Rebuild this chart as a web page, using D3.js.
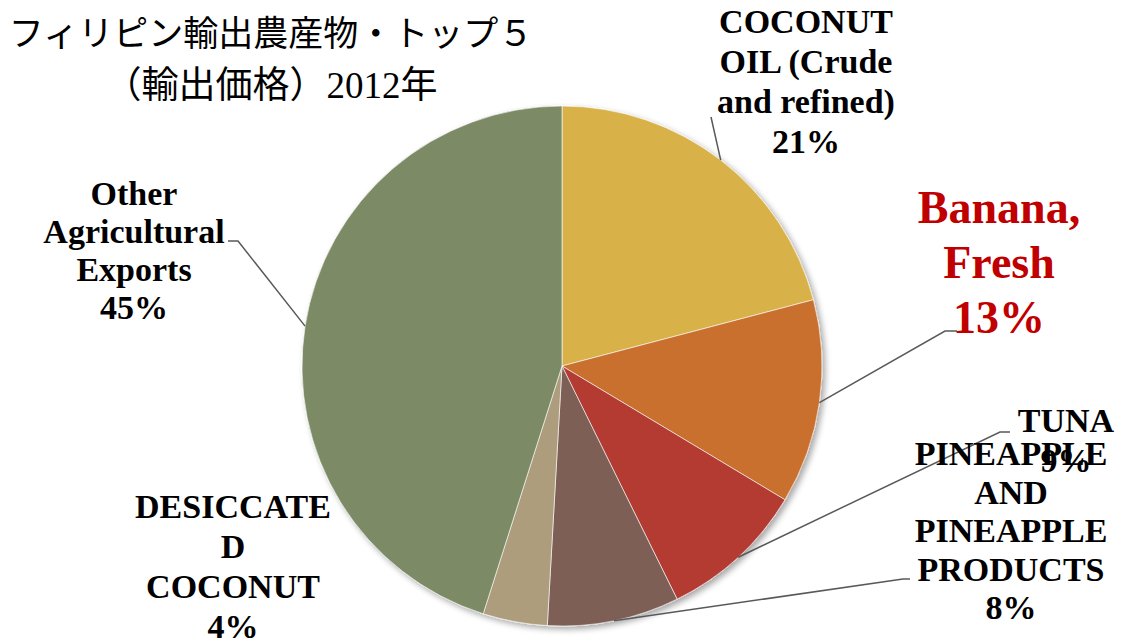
<!DOCTYPE html>
<html>
<head>
<meta charset="utf-8">
<script src="https://cdn.jsdelivr.net/npm/d3@7"></script>
<style>
body{margin:0;background:#fff}
svg text{font-family:'Liberation Serif','Noto Sans CJK JP',serif}
</style>
</head>
<body>
<div id="chart"></div>
<script>
// data
const categories=['COCONUT OIL (Crude and refined)','Banana, Fresh','TUNA','PINEAPPLE AND PINEAPPLE PRODUCTS','DESICCATED COCONUT','Other Agricultural Exports']
const values=[20.9,12.7,9.1,8.2,4.0,45.1]
const percentLabels=['21%','13%','9%','8%','4%','45%']
const labelLines=[
	['COCONUT','OIL (Crude','and refined)'],
	['Banana,','Fresh'],
	['TUNA'],
	['PINEAPPLE','AND','PINEAPPLE','PRODUCTS'],
	['DESICCATE','D','COCONUT'],
	['Other','Agricultural','Exports']
]
const titleLines=['フィリピン輸出農産物・トップ５','（輸出価格）2012年']

const colors=['#D8B24A','#C96F2E','#B33A33','#7E5F57','#AD9D7C','#7C8A65']

const width=1125,height=641
const cx=562,cy=366,radius=260

// label layout: centre x, first baseline, line gap, font size, colour
const labelLayout=[
	{x:806,y:33,gap:40,size:34,color:'#000'},
	{x:999,y:223,gap:55,size:46,color:'#C00000'},
	{x:1066,y:432,gap:40,size:34,color:'#000'},
	{x:1011,y:465,gap:38.5,size:34,color:'#000'},
	{x:233,y:518,gap:40,size:34,color:'#000'},
	{x:134,y:205,gap:38,size:34,color:'#000'}
]
// leader elbows: [elbow, end]  (null = no leader)
const leaders=[
	[[711,117],[711,117]],
	[[945,331],[957,331]],
	[[1000,432],[1010,432]],
	[[903,579],[910,579]],
	null,
	[[238,241],[228,241]]
]

const svg=d3.select('#chart').append('svg')
	.attr('width',width)
	.attr('height',height)

const defs=svg.append('defs')
const shadow=defs.append('filter')
	.attr('id','shadow')
	.attr('x','-10%').attr('y','-10%')
	.attr('width','120%').attr('height','120%')
shadow.append('feGaussianBlur').attr('in','SourceAlpha').attr('stdDeviation',3)
shadow.append('feOffset').attr('dx',3).attr('dy',3).attr('result','blur')
shadow.append('feComponentTransfer').append('feFuncA').attr('type','linear').attr('slope',0.35)
const merge=shadow.append('feMerge')
merge.append('feMergeNode')
merge.append('feMergeNode').attr('in','SourceGraphic')

const pie=d3.pie()
	.sort(null)
	.value(d=>d)

const arcs=pie(values)

const arc=d3.arc()
	.innerRadius(0)
	.outerRadius(radius)

const g=svg.append('g')
	.attr('transform','translate('+cx+','+cy+')')

g.append('g')
	.attr('filter','url(#shadow)')
	.selectAll('path')
	.data(arcs)
	.enter()
	.append('path')
	.attr('d',arc)
	.attr('fill',(d,i)=>colors[i])
	.attr('stroke','#fff')
	.attr('stroke-width',0.6)

// leader lines
arcs.forEach((d,i)=>{
	if(!leaders[i]) return
	const mid=(d.startAngle+d.endAngle)/2
	const start=[cx+radius*Math.sin(mid),cy-radius*Math.cos(mid)]
	svg.append('path')
		.attr('d',d3.line()([start,leaders[i][0],leaders[i][1]]))
		.attr('fill','none')
		.attr('stroke','#595959')
		.attr('stroke-width',1.5)
})

// labels
arcs.forEach((d,i)=>{
	const l=labelLayout[i]
	const lines=labelLines[i].concat([percentLabels[i]])
	const t=svg.append('text')
		.attr('text-anchor','middle')
		.attr('font-weight','bold')
		.attr('font-size',l.size)
		.attr('fill',l.color)
	lines.forEach((s,j)=>{
		t.append('tspan')
			.attr('x',l.x)
			.attr('y',l.y+j*l.gap)
			.text(s)
	})
})

// title
const title=svg.append('text')
	.attr('text-anchor','middle')
	.attr('font-size',35)
	.attr('fill','#000')
titleLines.forEach((s,j)=>{
	title.append('tspan')
		.attr('x',271)
		.attr('y',46+j*52)
		.attr('font-size',j?37:35)
		.text(s)
})
</script>
</body>
</html>
